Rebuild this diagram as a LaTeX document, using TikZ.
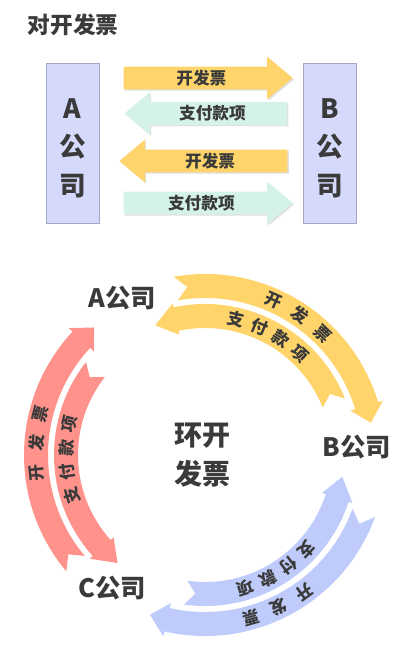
\documentclass[tikz,border=0pt]{standalone}
\usepackage{fontspec}
\setmainfont{Noto Sans CJK SC}
\usetikzlibrary{shapes.arrows,shadows}

\definecolor{txtgray}{HTML}{3A3A3A}
\definecolor{invyellow}{HTML}{FFD46B}
\definecolor{paymint}{HTML}{D4F2EA}
\definecolor{boxblue}{HTML}{D5D9FB}
\definecolor{boxline}{HTML}{A3A8C9}
\definecolor{ringred}{HTML}{FF938C}
\definecolor{ringblue}{HTML}{BECBFB}

\tikzset{
  flowarrow/.style={single arrow, draw=none, inner xsep=0pt, inner ysep=0pt,
    text height=12.85pt, text depth=3.65pt, single arrow head extend=7.5pt,
    single arrow tip angle=80, anchor=tip, text=txtgray,
    font=\fontsize{12.5}{12.5}\selectfont\bfseries,
    drop shadow={shadow xshift=1pt, shadow yshift=-1pt, opacity=0.25}},
  companybox/.style={draw=boxline, fill=boxblue, line width=0.6pt,
    minimum width=39.75pt, minimum height=120pt, inner sep=0pt},
  companytext/.style={align=center, text=txtgray, inner sep=0pt,
    font=\fontsize{20}{29}\selectfont\bfseries},
  ringlabel/.style={text=txtgray, inner sep=0pt, font=\fontsize{19}{19}\selectfont\bfseries},
  ringtext/.style={text=txtgray, inner sep=0pt, font=\fontsize{12.5}{12.5}\selectfont\bfseries}
}

\begin{document}
\begin{tikzpicture}[x=0.75pt, y=0.75pt]
  \useasboundingbox (0,0) rectangle (405,-652);

  % 对开发票
  \node[ringlabel, font=\fontsize{17}{17}\selectfont\bfseries] (title) at (73,-25) {对开发票};

  \node[companybox] (boxA) at (72.5,-143) {};
  \node[companytext] (txtA) at ([yshift=-4pt]boxA.center) {A\\公\\司};
  \node[companybox] (boxB) at (329.5,-143) {};
  \node[companytext] (txtB) at ([yshift=-4pt]boxB.center) {B\\公\\司};

  \node[flowarrow, fill=invyellow, minimum height=126.75pt] (invAB) at (293,-78) {开发票};
  \node[flowarrow, fill=paymint, minimum height=122pt, shape border rotate=180] (payBA) at (124,-113.5) {支付款项};
  \node[flowarrow, fill=invyellow, minimum height=126pt, shape border rotate=180] (invBA) at (119,-161) {开发票};
  \node[flowarrow, fill=paymint, minimum height=126.75pt] (payAB) at (293,-203) {支付款项};

  % 环开发票
  \foreach \ringcol [count=\k from 0] in {invyellow, ringred, ringblue} {
    \begin{scope}[shift={(205,-455)}, rotate=\k*120, transform shape]
      % 开发票 (outer)
      \fill[\ringcol] (100:181) arc[start angle=100, end angle=17, radius=181]
        -- (17:186) -- (11:169) -- (17:152) -- (17:157)
        arc[start angle=17, end angle=100, radius=157] -- (96:169) -- cycle;
      % 支付款项 (inner)
      \fill[\ringcol] (22:151) arc[start angle=22, end angle=102, radius=151]
        -- (102:155) -- (111:139) -- (102:123) -- (102:127)
        arc[start angle=102, end angle=22, radius=127] -- (26:139) -- cycle;
      \foreach \ch/\a in {开/66, 发/56, 票/46}
        \node[ringtext, rotate=\a-90] (inv\k\a) at (\a:169) {\ch};
      \foreach \ch/\a in {支/77, 付/67, 款/57, 项/47}
        \node[ringtext, rotate=\a-90] (pay\k\a) at (\a:139) {\ch};
    \end{scope}
  }

  \node[ringlabel] (compA) at (122,-298) {A公司};
  \node[ringlabel] (compB) at (357,-447) {B公司};
  \node[ringlabel] (compC) at (112,-588) {C公司};
  \node[companytext, font=\fontsize{21}{29}\selectfont\bfseries] (ringtitle) at (202,-455) {环开\\发票};
\end{tikzpicture}
\end{document}
